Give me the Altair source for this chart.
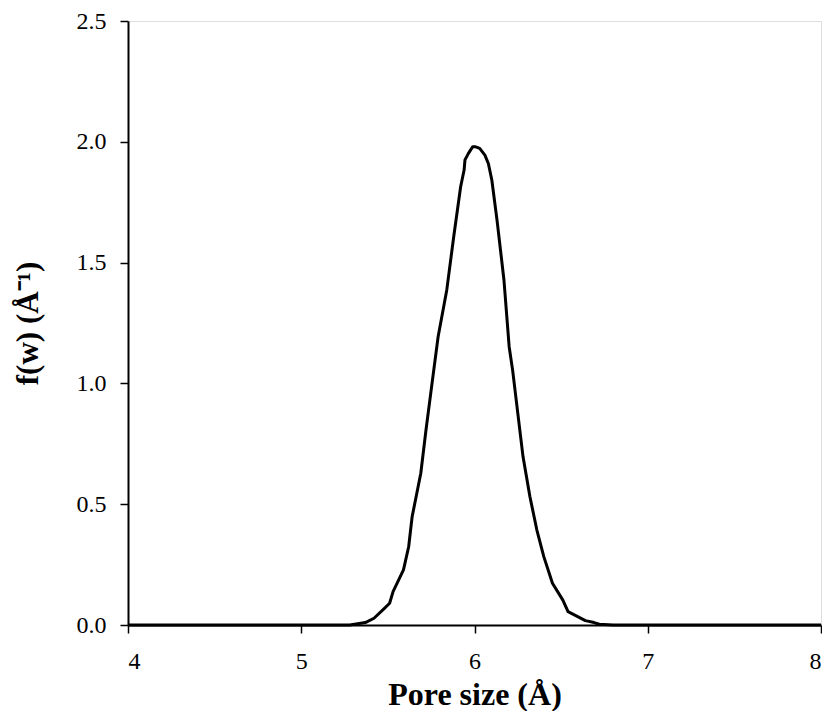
import altair as alt
import pandas as pd

pore_size = [4.0, 4.5, 5.0, 5.2, 5.28, 5.37, 5.42, 5.48, 5.51, 5.53, 5.59, 5.62, 5.64,
             5.69, 5.72, 5.75, 5.79, 5.84, 5.88, 5.92, 5.94, 5.945, 5.965, 5.99,
             6.003, 6.03, 6.06, 6.08, 6.10, 6.13, 6.17, 6.20, 6.22, 6.28, 6.32,
             6.36, 6.40, 6.45, 6.51, 6.54, 6.59, 6.64, 6.69, 6.72, 6.8, 7.0, 7.5, 8.0]
fw = [0.0, 0.0, 0.0, 0.0, 0.0, 0.01, 0.028, 0.069, 0.09, 0.138, 0.228, 0.324, 0.448,
      0.628, 0.807, 0.973, 1.193, 1.387, 1.607, 1.814, 1.883, 1.925, 1.952, 1.98,
      1.98, 1.973, 1.945, 1.91, 1.842, 1.676, 1.428, 1.152, 1.055, 0.697, 0.531,
      0.393, 0.283, 0.173, 0.103, 0.055, 0.037, 0.018, 0.01, 0.003, 0.0, 0.0, 0.0, 0.0]

x_ticks = [4, 5, 6, 7, 8]
y_ticks = [0.0, 0.5, 1.0, 1.5, 2.0, 2.5]

df = pd.DataFrame({"w": pore_size, "f": fw})

FONT = "Liberation Serif"

chart = alt.Chart(df).mark_line(color="black", strokeWidth=3, strokeJoin="round").encode(
    x=alt.X("w:Q",
            scale=alt.Scale(domain=[4, 8], nice=False, zero=False),
            axis=alt.Axis(values=x_ticks, format="d", title="Pore size (Å)",
                          grid=False, domainColor="black", domainWidth=2,
                          tickColor="black", tickWidth=1.5, tickSize=8,
                          labelFont=FONT, labelFontSize=24, labelColor="black",
                          labelPadding=16,
                          titleFont=FONT, titleFontSize=32, titleFontWeight="bold",
                          titleColor="black", titlePadding=6)),
    y=alt.Y("f:Q",
            scale=alt.Scale(domain=[0, 2.5], nice=False),
            axis=alt.Axis(values=y_ticks, format=".1f", title="f(w) (Å⁻¹)",
                          grid=False, domainColor="black", domainWidth=2,
                          tickColor="black", tickWidth=1.5, tickSize=8,
                          labelFont=FONT, labelFontSize=24, labelColor="black",
                          labelPadding=14,
                          titleFont=FONT, titleFontSize=31, titleFontWeight="bold",
                          titleColor="black", titlePadding=32)),
).properties(
    width=693,
    height=604,
    autosize=alt.AutoSizeParams(type="none"),
    padding={"left": 120, "top": 13, "right": 1, "bottom": 86},
).configure_view(
    stroke="black", strokeWidth=1.5
).configure(background="white")

chart.save("out.html", embed_options={"renderer": "svg", "actions": False})
